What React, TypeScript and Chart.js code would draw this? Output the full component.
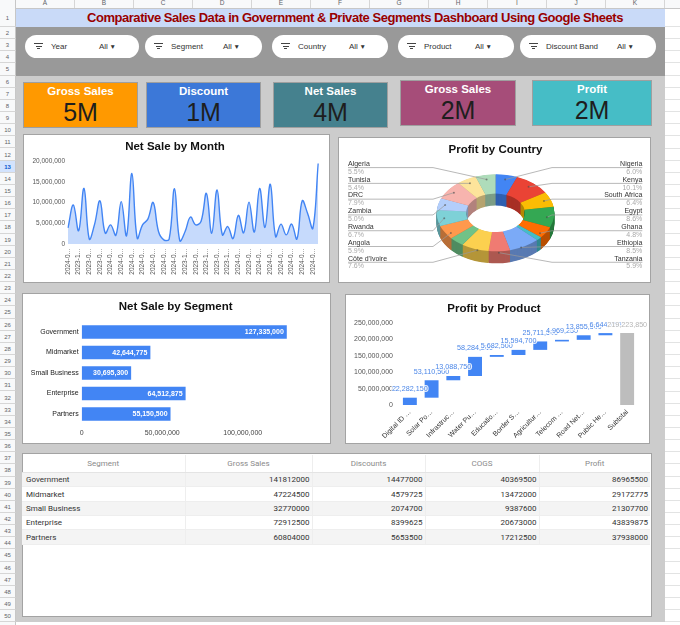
import React, { useEffect, useRef } from 'react';
import { Chart, registerables } from 'chart.js';

Chart.register(...registerables);

const SANS = '"Liberation Sans", Arial, Helvetica, sans-serif';
const ROBOTO = 'Roboto, "Liberation Sans", Arial, sans-serif';
Chart.defaults.font.family = SANS;
Chart.defaults.color = '#555';

// ---------- dashboard header ----------
const dashboardTitle =
  'Comparative Sales Data in Government & Private Segments Dashboard Using Google Sheets';
const filterNames = ['Year', 'Segment', 'Country', 'Product', 'Discount Band'];
const filterSelection = 'All';

// ---------- KPI tiles ----------
const kpiTitles = ['Gross Sales', 'Discount', 'Net Sales', 'Gross Sales', 'Profit'];
const kpiValues = ['5M', '1M', '4M', '2M', '2M'];
const kpiColors = ['#FF9900', '#3C78D8', '#45818E', '#A64D79', '#46BDC6'];

// ---------- net sale by month ----------
const salePeriods = [
  '2024-06-01', '2024-11-01', '2023-10-01', '2023-02-01', '2023-06-01', '2024-12-01',
  '2023-09-01', '2023-12-01', '2024-01-01', '2024-10-01', '2024-05-01', '2023-03-01',
  '2024-08-01', '2023-05-01', '2024-03-01', '2023-07-01', '2024-09-01', '2023-11-01',
  '2024-02-01', '2024-11-15', '2024-07-01', '2023-08-01', '2023-11-15', '2024-04-01',
  '2023-01-01', '2024-06-15', '2023-12-15', '2023-04-01', '2023-08-15', '2024-12-15',
  '2023-10-15', '2023-02-15', '2024-01-15', '2024-10-15', '2023-06-15', '2023-09-15',
  '2024-02-15', '2023-12-20', '2024-04-15', '2023-03-15', '2024-07-15', '2023-05-15',
  '2024-05-15', '2023-07-15', '2024-08-15', '2024-11-20', '2024-09-15', '2024-03-15',
];
const monthlyNetSales = [
  3900000, 9400000, 3200000, 13400000, 1200000, 4800000, 10400000, 2600000,
  4600000, 2100000, 10200000, 2000000, 17000000, 1400000, 4600000, 6000000,
  10000000, 3000000, 1000000, 1200000, 13300000, 800000, 3000000, 6500000,
  4600000, 5500000, 12200000, 2600000, 13000000, 2200000, 4200000, 1300000,
  6900000, 2700000, 10100000, 2900000, 13400000, 4000000, 14400000, 1800000,
  4800000, 2200000, 4800000, 1200000, 10400000, 7400000, 3800000, 19400000,
];

// ---------- net sale by segment ----------
const segments = ['Government', 'Midmarket', 'Small Business', 'Enterprise', 'Partners'];
const segmentNetSales = [127335000, 42644775, 30695300, 64512875, 55150500];

// ---------- profit by country (share, %) ----------
const countries = [
  'Nigeria', 'Kenya', 'South Africa', 'Egypt', 'Ghana', 'Uganda', 'Ethiopia', 'Tanzania',
  "Côte d'Ivoire", 'Cameroon', 'Angola', 'Rwanda', 'Zambia', 'DRC', 'Tunisia', 'Algeria',
];
const countryProfitShare = [6.0, 10.1, 6.4, 8.6, 4.8, 1.6, 8.5, 5.9, 7.6, 4.1, 5.9, 6.7, 5.0, 7.9, 5.4, 5.5];
const countryColors = [
  '#4285F4', '#EA4335', '#FBBC04', '#34A853', '#FF6D01', '#46BDC6', '#7BAAF7', '#F07B72',
  '#FCD04F', '#71C287', '#FF994D', '#7ED1D7', '#B3CEFB', '#F7B4AE', '#FDE49B', '#AEDCBA',
];

// ---------- profit by product (waterfall) ----------
const productTicks = [
  'Digital ID …', 'Solar Po…', 'Infrastruc…', 'Water Pu…', 'Educatio…',
  'Border S…', 'Agricultur…', 'Telecom …', 'Road Net…', 'Public He…',
];
const productProfit = [
  22282150, 53110500, 13088750, 58284250, 5682500,
  15594700, 25711500, 4969250, 13855500, 6644750,
];
const subtotalTick = 'Subtotal';

// ---------- segment table ----------
const tableColumns = ['Segment', 'Gross Sales', 'Discounts', 'COGS', 'Profit'];
const tableGrossSales = [141812000, 47224500, 32770000, 72912500, 60804000];
const tableDiscounts = [14477000, 4579725, 2074700, 8399625, 5653500];
const tableCogs = [40369500, 13472000, 9387600, 20673000, 17212500];
const tableProfit = [86965500, 29172775, 21307700, 43839875, 37938000];

// ---------- sheet chrome ----------
const columnLetters = ['A', 'B', 'C', 'D', 'E', 'F', 'G', 'H', 'I', 'J', 'K'];

const fmt = (v: number) => String(Math.round(v)).replace(/\B(?=(\d{3})+(?!\d))/g, ',');

function shade(hex: string, f: number) {
  const n = parseInt(hex.slice(1), 16);
  const r = Math.round(((n >> 16) & 255) * f);
  const g = Math.round(((n >> 8) & 255) * f);
  const b = Math.round((n & 255) * f);
  return `rgb(${r},${g},${b})`;
}

const titleOpts = (text: string, top: number, bottom: number) => ({
  display: true,
  text,
  color: '#111',
  font: { size: 11.5, weight: 'bold' as const },
  padding: { top, bottom },
});

const hiddenGrid = { display: false, drawTicks: false };

// ---------- chart configs ----------
function monthConfig(): any {
  return {
    type: 'line',
    data: {
      labels: salePeriods,
      datasets: [
        {
          data: monthlyNetSales,
          borderColor: '#4285F4',
          borderWidth: 1.4,
          backgroundColor: 'rgba(66,133,244,0.3)',
          fill: 'origin',
          tension: 0.4,
          pointRadius: 0,
        },
      ],
    },
    options: {
      animation: false,
      responsive: false,
      events: [],
      layout: { padding: { left: 7, right: 10, top: 0, bottom: 0 } },
      plugins: {
        legend: { display: false },
        tooltip: { enabled: false },
        title: titleOpts('Net Sale by Month', 5.8, 7.4),
      },
      scales: {
        x: {
          grid: hiddenGrid,
          border: { display: false },
          ticks: {
            autoSkip: false,
            minRotation: 90,
            maxRotation: 90,
            padding: 4,
            color: '#555',
            font: { size: 6.5 },
            callback: (_v: any, i: number) => (i % 2 === 0 ? salePeriods[i].slice(0, 6) + '…' : ''),
          },
          afterFit: (s: any) => {
            s.height = 39;
          },
        },
        y: {
          min: 0,
          max: 20000000,
          grid: hiddenGrid,
          border: { display: false },
          ticks: { stepSize: 5000000, padding: 3, color: '#555', font: { size: 6.5 }, callback: (v: any) => fmt(v) },
          afterFit: (s: any) => {
            s.width = 38;
          },
        },
      },
    },
  };
}

const barValueLabels = {
  id: 'barValueLabels',
  afterDatasetsDraw(chart: any) {
    const ctx = chart.ctx;
    const meta = chart.getDatasetMeta(0);
    const data = chart.data.datasets[0].data as number[];
    ctx.save();
    ctx.font = `bold 7px ${SANS}`;
    ctx.fillStyle = '#ffffff';
    ctx.textAlign = 'right';
    ctx.textBaseline = 'middle';
    meta.data.forEach((bar: any, i: number) => {
      ctx.fillText(fmt(data[i]), bar.x - 3, bar.y + 0.5);
    });
    ctx.restore();
  },
};

function segmentConfig(): any {
  return {
    type: 'bar',
    data: {
      labels: segments,
      datasets: [
        {
          data: segmentNetSales,
          backgroundColor: '#4285F4',
          categoryPercentage: 0.8,
          barPercentage: 0.81,
        },
      ],
    },
    plugins: [barValueLabels],
    options: {
      indexAxis: 'y',
      animation: false,
      responsive: false,
      events: [],
      layout: { padding: { left: 6, right: 7.7, top: 0, bottom: 0 } },
      plugins: {
        legend: { display: false },
        tooltip: { enabled: false },
        title: titleOpts('Net Sale by Segment', 6.8, 8.15),
      },
      scales: {
        x: {
          min: 0,
          max: 150000000,
          grid: hiddenGrid,
          border: { display: false },
          ticks: {
            stepSize: 50000000,
            padding: 5,
            color: '#444',
            font: { size: 7 },
            callback: (v: any) => (v >= 150000000 ? '' : fmt(v)),
          },
          afterFit: (s: any) => {
            s.height = 19.75;
          },
        },
        y: {
          grid: hiddenGrid,
          border: { display: false },
          ticks: { padding: 3, color: '#222', font: { size: 7 } },
          afterFit: (s: any) => {
            s.width = 53.7;
          },
        },
      },
    },
  };
}

const waterfallLabels = {
  id: 'waterfallLabels',
  afterDatasetsDraw(chart: any) {
    const ctx = chart.ctx;
    const meta = chart.getDatasetMeta(0);
    const spans = chart.data.datasets[0].data as number[][];
    ctx.save();
    ctx.font = `7.2px ${SANS}`;
    ctx.textAlign = 'center';
    ctx.textBaseline = 'middle';
    ctx.lineJoin = 'round';
    meta.data.forEach((bar: any, i: number) => {
      const last = i === spans.length - 1;
      const value = spans[i][1] - spans[i][0];
      const top = Math.min(bar.y, bar.base);
      const text = fmt(value);
      ctx.strokeStyle = 'rgba(255,255,255,0.85)';
      ctx.lineWidth = 2.2;
      ctx.strokeText(text, bar.x, top - 8.5);
      ctx.fillStyle = last ? '#B5B5B5' : '#4A86E8';
      ctx.fillText(text, bar.x, top - 8.5);
    });
    ctx.restore();
  },
};

function productConfig(): any {
  let running = 0;
  const spans = productProfit.map((v) => {
    const start = running;
    running += v;
    return [start, running];
  });
  spans.push([0, running]);
  const colors = spans.map((_s, i) => (i === spans.length - 1 ? '#BDBDBD' : '#4285F4'));
  return {
    type: 'bar',
    data: {
      labels: [...productTicks, subtotalTick],
      datasets: [
        {
          data: spans,
          backgroundColor: colors,
          categoryPercentage: 0.8,
          barPercentage: 0.8,
        },
      ],
    },
    plugins: [waterfallLabels],
    options: {
      animation: false,
      responsive: false,
      events: [],
      layout: { padding: { left: 5, right: 12, top: 0, bottom: 0 } },
      plugins: {
        legend: { display: false },
        tooltip: { enabled: false },
        title: titleOpts('Profit by Product', 8.4, 6.8),
      },
      scales: {
        x: {
          grid: hiddenGrid,
          border: { display: false },
          ticks: { autoSkip: false, minRotation: 45, maxRotation: 45, padding: 3, color: '#333', font: { size: 7 } },
          afterFit: (s: any) => {
            s.height = 39;
          },
        },
        y: {
          min: 0,
          max: 250000000,
          grid: hiddenGrid,
          border: { display: false },
          ticks: { stepSize: 50000000, padding: 6, color: '#555', font: { size: 7 }, callback: (v: any) => fmt(v) },
          afterFit: (s: any) => {
            s.width = 49;
          },
        },
      },
    },
  };
}

// Tilted donut with side walls and outside labels joined by leader lines
const donut3d = {
  id: 'donut3d',
  beforeDatasetsDraw(chart: any, _args: any, opts: any) {
    const meta = chart.getDatasetMeta(0);
    const ctx = chart.ctx;
    if (!meta.data.length) return;
    const { x: cx, y: cy } = meta.data[0];
    const colors = chart.data.datasets[0].backgroundColor as string[];
    for (let d = opts.depth; d >= 0.5; d -= 0.5) {
      ctx.save();
      ctx.translate(0, cy + d);
      ctx.scale(1, opts.tilt);
      ctx.translate(0, -cy);
      meta.data.forEach((el: any, i: number) => {
        const p = el.getProps(['startAngle', 'endAngle', 'innerRadius', 'outerRadius'], true);
        ctx.beginPath();
        ctx.arc(cx, cy, p.outerRadius, p.startAngle, p.endAngle);
        ctx.arc(cx, cy, p.innerRadius, p.endAngle, p.startAngle, true);
        ctx.closePath();
        ctx.fillStyle = shade(colors[i], 0.72);
        ctx.fill();
      });
      ctx.restore();
    }
    ctx.save();
    ctx.translate(0, cy);
    ctx.scale(1, opts.tilt);
    ctx.translate(0, -cy);
  },
  afterDatasetsDraw(chart: any, _args: any, opts: any) {
    const ctx = chart.ctx;
    ctx.restore();
    const meta = chart.getDatasetMeta(0);
    if (!meta.data.length) return;
    const data = chart.data.datasets[0].data as number[];
    const names = chart.data.labels as string[];
    const total = data.reduce((a, b) => a + b, 0);
    const { x: cx, y: cy } = meta.data[0];
    const items = meta.data
      .map((el: any, i: number) => {
        const p = el.getProps(['startAngle', 'endAngle', 'outerRadius'], true);
        const mid = (p.startAngle + p.endAngle) / 2;
        const r = p.outerRadius * 0.88;
        const s = Math.sin(mid);
        return {
          i,
          mid,
          share: (data[i] / total) * 100,
          ax: cx + Math.cos(mid) * r,
          ay: cy + s * r * opts.tilt + (s > 0 ? s * opts.depth * 0.5 : 0),
        };
      })
      .filter((it: any) => it.share >= opts.minShare);
    const norm = (a: number) => {
      let v = a;
      while (v < -Math.PI / 2) v += Math.PI * 2;
      return v;
    };
    const right = items.filter((it: any) => Math.cos(it.mid) >= 0).sort((a: any, b: any) => norm(a.mid) - norm(b.mid));
    const left = items.filter((it: any) => Math.cos(it.mid) < 0).sort((a: any, b: any) => norm(b.mid) - norm(a.mid));
    ctx.save();
    ctx.font = `7px ${SANS}`;
    ctx.textBaseline = 'middle';
    const drawSide = (list: any[], isRight: boolean) => {
      list.forEach((it, k) => {
        const ny = opts.slotTop + k * opts.slotGap;
        const ly = ny + 3.6;
        const x = isRight ? opts.rightX : opts.leftX;
        const bend = isRight ? Math.max(opts.rightBend, it.ax) : Math.min(opts.leftBend, it.ax);
        ctx.strokeStyle = '#9A9A9A';
        ctx.lineWidth = 0.7;
        ctx.beginPath();
        ctx.moveTo(x, ly);
        ctx.lineTo(bend, ly);
        ctx.lineTo(it.ax, it.ay);
        ctx.stroke();
        ctx.fillStyle = 'rgba(60,60,60,0.5)';
        ctx.beginPath();
        ctx.arc(it.ax, it.ay, 1, 0, Math.PI * 2);
        ctx.fill();
        ctx.textAlign = isRight ? 'right' : 'left';
        ctx.fillStyle = '#333';
        ctx.fillText(names[it.i], x, ny);
        ctx.fillStyle = '#AAAAAA';
        ctx.fillText(it.share.toFixed(1) + '%', x, ny + 7.8);
      });
    };
    drawSide(left, false);
    drawSide(right, true);
    ctx.restore();
  },
};

function countryConfig(): any {
  return {
    type: 'doughnut',
    data: {
      labels: countries,
      datasets: [
        {
          data: countryProfitShare,
          backgroundColor: countryColors,
          borderWidth: 0,
          radius: 58.8,
          cutout: '50%',
        },
      ],
    },
    plugins: [donut3d],
    options: {
      animation: false,
      responsive: false,
      events: [],
      layout: { padding: { left: 2, right: 0, top: 0, bottom: 18.2 } },
      plugins: {
        legend: { display: false },
        tooltip: { enabled: false },
        title: titleOpts('Profit by Country', 6.1, 4),
        donut3d: {
          tilt: 0.655,
          depth: 12,
          minShare: 4.5,
          slotTop: 27,
          slotGap: 15.78,
          leftX: 10,
          rightX: 304.3,
          leftBend: 95,
          rightBend: 214,
        },
      },
    },
  };
}

// ---------- components ----------
function ChartCanvas({ width, height, make }: { width: number; height: number; make: () => any }) {
  const ref = useRef<HTMLCanvasElement>(null);
  useEffect(() => {
    const chart = new Chart(ref.current as HTMLCanvasElement, make());
    return () => chart.destroy();
  }, []);
  return <canvas ref={ref} width={width} height={height} style={{ display: 'block', width, height }} />;
}

function Card({ left, top, width, height, children }: any) {
  return (
    <div
      style={{
        position: 'absolute',
        left,
        top,
        width,
        height,
        background: '#fff',
        border: '1px solid #A3A3A3',
        boxSizing: 'border-box',
      }}
    >
      <div style={{ position: 'absolute', left: -1, top: -1 }}>{children}</div>
    </div>
  );
}

const ROW_H = 12.15;
const rowTop = (n: number) => (n === 1 ? 9 : 27 + (n - 2) * ROW_H);
const rowHeight = (n: number) => (n === 1 ? 18 : ROW_H);
const COL_X0 = 16;
const COL_W = 59;

function SheetFrame() {
  const rows = Array.from({ length: 51 }, (_v, i) => i + 1);
  return (
    <>
      {/* cell gridlines beyond the dashboard */}
      {rows.map((n) => (
        <div
          key={'g' + n}
          style={{
            position: 'absolute',
            left: 16,
            width: 664,
            top: rowTop(n) + rowHeight(n) - 1,
            height: 1,
            background: '#E2E3E3',
          }}
        />
      ))}
      <div style={{ position: 'absolute', left: 0, top: 0, width: 680, height: 9, background: '#F8F9FA', borderBottom: '1px solid #C7C7C7', boxSizing: 'border-box' }} />
      {columnLetters.map((c, i) => (
        <div
          key={c}
          style={{
            position: 'absolute',
            left: COL_X0 + i * COL_W,
            top: -2,
            width: COL_W,
            height: 10,
            lineHeight: '10px',
            textAlign: 'center',
            fontSize: 6.5,
            color: '#5F6368',
            borderRight: '1px solid #D6D6D6',
            boxSizing: 'border-box',
          }}
        >
          {c}
        </div>
      ))}
      <div style={{ position: 'absolute', left: 0, top: 0, width: 16, height: 625, background: '#F8F9FA', borderRight: '1px solid #C7C7C7', boxSizing: 'border-box' }} />
      {rows.map((n) => (
        <div
          key={'r' + n}
          style={{
            position: 'absolute',
            left: 0,
            top: rowTop(n),
            width: 16,
            height: rowHeight(n),
            lineHeight: rowHeight(n) + 'px',
            textAlign: 'center',
            fontSize: 6,
            color: n === 13 ? '#0B57D0' : '#5F6368',
            fontWeight: n === 13 ? 'bold' : 'normal',
            background: n === 13 ? '#D3E3FD' : 'transparent',
            borderBottom: '1px solid #D6D6D6',
            borderRight: '1px solid #C7C7C7',
            boxSizing: 'border-box',
          }}
        >
          {n}
        </div>
      ))}
    </>
  );
}

const pillBoxes = [
  { left: 25, width: 114, valueAt: 74 },
  { left: 145, width: 117, valueAt: 78 },
  { left: 272, width: 116, valueAt: 77 },
  { left: 398, width: 116, valueAt: 77 },
  { left: 520, width: 136, valueAt: 97 },
];

function FilterPill({ name, box }: any) {
  return (
    <div
      style={{
        position: 'absolute',
        left: box.left,
        top: 35,
        width: box.width,
        height: 23,
        borderRadius: 12,
        background: '#fff',
        fontSize: 8,
        color: '#333',
      }}
    >
      {[9, 6, 3].map((w, i) => (
        <div
          key={i}
          style={{
            position: 'absolute',
            left: 9 + (9 - w) / 2,
            top: 8 + i * 2.6,
            width: w,
            height: 1.3,
            background: '#444',
          }}
        />
      ))}
      <div style={{ position: 'absolute', left: 26, top: 0, lineHeight: '23px' }}>{name}</div>
      <div style={{ position: 'absolute', left: box.valueAt, top: 0, lineHeight: '23px' }}>
        {filterSelection}
        <span style={{ fontSize: 6.5, marginLeft: 1.5 }}>▼</span>
      </div>
    </div>
  );
}

const kpiBoxes = [
  { left: 24, top: 83, width: 113 },
  { left: 147, top: 83, width: 113 },
  { left: 274, top: 83, width: 113 },
  { left: 401, top: 81, width: 114 },
  { left: 533, top: 81, width: 118 },
];

function KpiTile({ i }: { i: number }) {
  const b = kpiBoxes[i];
  return (
    <div
      style={{
        position: 'absolute',
        left: b.left,
        top: b.top,
        width: b.width,
        height: 44,
        background: kpiColors[i],
        boxShadow: '0 0 0 1px rgba(0,0,0,0.22)',
        textAlign: 'center',
      }}
    >
      <div style={{ position: 'absolute', left: 0, right: 0, top: 2, lineHeight: '13px', fontSize: 11.5, fontWeight: 'bold', color: '#fff' }}>
        {kpiTitles[i]}
      </div>
      <div style={{ position: 'absolute', left: 0, right: 0, top: 15, lineHeight: '28px', fontSize: 25, color: '#1E1E1E' }}>
        {kpiValues[i]}
      </div>
    </div>
  );
}

const tableColWidths = [163, 127, 113, 114, 111];

function SegmentTable() {
  const rows = segments.map((s, i) => [s, tableGrossSales[i], tableDiscounts[i], tableCogs[i], tableProfit[i]]);
  return (
    <table
      style={{
        position: 'absolute',
        left: 0,
        top: 2,
        borderCollapse: 'collapse',
        tableLayout: 'fixed',
        width: tableColWidths.reduce((a, b) => a + b, 0),
        fontFamily: ROBOTO,
        fontSize: 8,
      }}
    >
      <colgroup>
        {tableColWidths.map((w, i) => (
          <col key={i} style={{ width: w }} />
        ))}
      </colgroup>
      <thead>
        <tr style={{ height: 17.7 }}>
          {tableColumns.map((c, i) => (
            <th
              key={c}
              style={{
                fontWeight: 'normal',
                color: '#8A8A8A',
                textAlign: 'center',
                padding: 0,
                borderBottom: '1px solid #E4E4E4',
                borderLeft: i ? '1px solid #EEEEEE' : 'none',
              }}
            >
              {c}
            </th>
          ))}
        </tr>
      </thead>
      <tbody>
        {rows.map((r, ri) => (
          <tr key={ri} style={{ height: 14.3, background: ri % 2 === 0 ? '#F4F4F4' : '#FFFFFF' }}>
            {r.map((v, ci) => (
              <td
                key={ci}
                style={{
                  padding: ci === 0 ? '0 0 0 4px' : '0 2px 0 0',
                  textAlign: ci === 0 ? 'left' : 'right',
                  color: '#333',
                  borderBottom: '1px solid #EEEEEE',
                  borderLeft: ci ? '1px solid #EEEEEE' : 'none',
                  whiteSpace: 'nowrap',
                }}
              >
                {v}
              </td>
            ))}
          </tr>
        ))}
      </tbody>
    </table>
  );
}

export default function App() {
  return (
    <div
      style={{
        position: 'fixed',
        left: 0,
        top: 0,
        width: 680,
        height: 625,
        overflow: 'hidden',
        background: '#fff',
        fontFamily: SANS,
      }}
    >
      <SheetFrame />
      <div style={{ position: 'absolute', left: 16, top: 9, width: 649, height: 18, background: '#C9DAF8' }} />
      <div
        style={{
          position: 'absolute',
          left: 82,
          top: 9,
          width: 546,
          height: 18,
          lineHeight: '18px',
          textAlign: 'center',
          whiteSpace: 'nowrap',
          fontSize: 13,
          fontWeight: 'bold',
          color: '#990000',
          letterSpacing: -0.46,
        }}
      >
        {dashboardTitle}
      </div>
      <div style={{ position: 'absolute', left: 16, top: 27, width: 649, height: 595, background: '#CCCCCC' }} />
      <div style={{ position: 'absolute', left: 16, top: 27, width: 649, height: 48.6, background: '#999999' }} />
      {filterNames.map((n, i) => (
        <FilterPill key={n} name={n} box={pillBoxes[i]} />
      ))}
      {kpiTitles.map((_t, i) => (
        <KpiTile key={i} i={i} />
      ))}
      <Card left={23} top={134} width={307} height={149}>
        <ChartCanvas width={307} height={149} make={monthConfig} />
      </Card>
      <Card left={338} top={137} width={313} height={146}>
        <ChartCanvas width={313} height={146} make={countryConfig} />
      </Card>
      <Card left={22} top={293} width={309} height={151}>
        <ChartCanvas width={309} height={151} make={segmentConfig} />
      </Card>
      <Card left={345} top={294} width={305} height={150}>
        <ChartCanvas width={305} height={150} make={productConfig} />
      </Card>
      <Card left={22} top={453} width={630} height={164}>
        <SegmentTable />
      </Card>
    </div>
  );
}
